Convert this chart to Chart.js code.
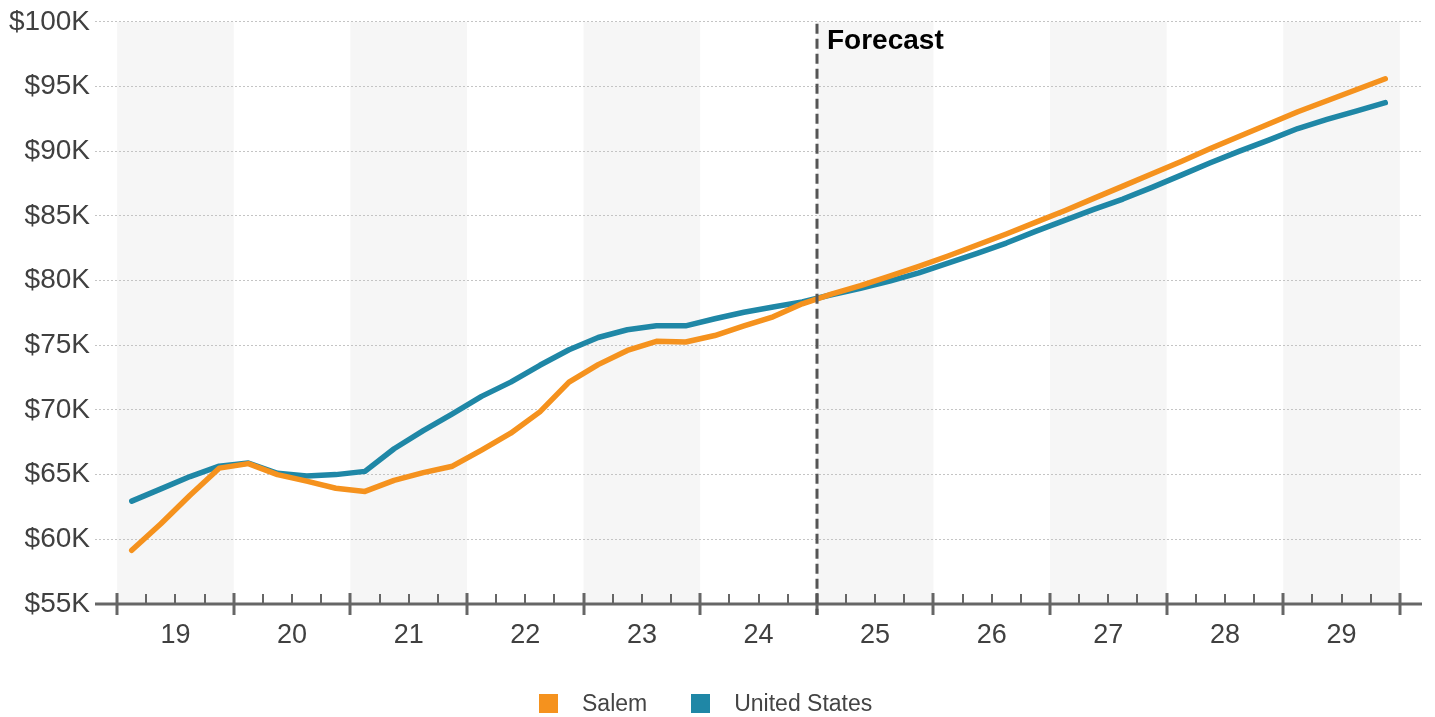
<!DOCTYPE html>
<html>
<head>
<meta charset="utf-8">
<script src="https://cdn.jsdelivr.net/npm/chart.js@4"></script>
<style>
  html, body { margin: 0; padding: 0; background: #fff; }
  #wrap { position: relative; width: 1435px; height: 717px; }
  #legend { position: absolute; left: 539px; top: 690px; display: flex; align-items: center;
            font-family: "Liberation Sans", Arial, sans-serif; font-size: 23px; color: #444; }
  .item { display: flex; align-items: center; margin-right: 44px; }
  .box { width: 19px; height: 19px; margin-right: 24px; }
</style>
</head>
<body>
<div id="wrap">
  <canvas id="c" width="1435" height="717"></canvas>
  <div id="legend"></div>
</div>
<script>
// Year labels (two-digit) and quarterly values, Q1 2019 through Q4 2029
const years = ['19', '20', '21', '22', '23', '24', '25', '26', '27', '28', '29'];
const forecastYear = '25';

const salem = [
  59.15, 61.2, 63.4, 65.5,
  65.85, 65.0, 64.5, 63.95,
  63.7, 64.55, 65.15, 65.65,
  66.9, 68.2, 69.85, 72.15,
  73.5, 74.6, 75.3, 75.25,
  75.75, 76.5, 77.2, 78.2,
  78.95, 79.6, 80.35, 81.1,
  81.9, 82.75, 83.6, 84.5,
  85.4, 86.35, 87.3, 88.25,
  89.2, 90.2, 91.15, 92.1,
  93.05, 93.9, 94.75, 95.6
];

const unitedStates = [
  62.95, 63.9, 64.85, 65.65,
  65.9, 65.1, 64.9, 65.0,
  65.25, 67.0, 68.4, 69.7,
  71.05, 72.15, 73.45, 74.65,
  75.6, 76.2, 76.5, 76.5,
  77.05, 77.55, 77.95, 78.35,
  78.9, 79.4, 79.95, 80.6,
  81.35, 82.1, 82.9, 83.8,
  84.65, 85.5, 86.3, 87.2,
  88.15, 89.1, 90.0, 90.85,
  91.75, 92.45, 93.1, 93.75
];

const yTicks = [55, 60, 65, 70, 75, 80, 85, 90, 95, 100];

const FONT = '"Liberation Sans", Arial, sans-serif';

// x is measured in years from the start of '19; each quarter sits at its centre
const toPoints = vals => vals.map((v, i) => ({ x: Math.floor(i / 4) + ((i % 4) + 0.5) / 4, y: v * 1000 }));

// Alternating year bands behind the lines
const bandsPlugin = {
  id: 'bands',
  beforeDraw(chart) {
    const { ctx, chartArea, scales: { x } } = chart;
    ctx.save();
    ctx.fillStyle = '#f6f6f6';
    years.forEach((y, i) => {
      if (i % 2 !== 0) return;
      const x0 = x.getPixelForValue(i), x1 = x.getPixelForValue(i + 1);
      ctx.fillRect(x0, chartArea.top, x1 - x0, chartArea.bottom - chartArea.top);
    });
    ctx.restore();
  }
};

// Time axis: base line, year and quarter tick marks, forecast divider
const axisPlugin = {
  id: 'timeAxis',
  afterDatasetsDraw(chart) {
    const { ctx, chartArea, scales: { x } } = chart;
    const yb = chartArea.bottom;
    ctx.save();
    ctx.strokeStyle = '#666';
    ctx.lineCap = 'butt';
    ctx.lineWidth = 3;
    ctx.beginPath();
    ctx.moveTo(chartArea.left, yb);
    ctx.lineTo(chartArea.right, yb);
    ctx.stroke();
    for (let i = 0; i <= years.length; i++) {
      for (let q = 0; q < 4; q++) {
        if (i === years.length && q > 0) break;
        const px = Math.round(x.getPixelForValue(i + q / 4));
        ctx.beginPath();
        if (q === 0) {
          ctx.lineWidth = 3;
          ctx.moveTo(px, yb - 11);
          ctx.lineTo(px, yb + 11);
        } else {
          ctx.lineWidth = 2;
          ctx.moveTo(px, yb - 10);
          ctx.lineTo(px, yb);
        }
        ctx.stroke();
      }
    }
    // forecast divider
    const fx = Math.round(x.getPixelForValue(years.indexOf(forecastYear)));
    ctx.strokeStyle = '#555';
    ctx.lineWidth = 3;
    ctx.setLineDash([10, 5]);
    ctx.beginPath();
    ctx.moveTo(fx, chartArea.top + 2);
    ctx.lineTo(fx, yb + 11);
    ctx.stroke();
    ctx.setLineDash([]);
    ctx.fillStyle = '#000';
    ctx.font = 'bold 28px ' + FONT;
    ctx.textBaseline = 'alphabetic';
    ctx.textAlign = 'left';
    ctx.fillText('Forecast', fx + 10, chartArea.top + 27);
    ctx.restore();
  }
};

const chart = new Chart(document.getElementById('c'), {
  type: 'line',
  data: {
    datasets: [
      { label: 'Salem', data: toPoints(salem), borderColor: '#F5921E', backgroundColor: '#F5921E' },
      { label: 'United States', data: toPoints(unitedStates), borderColor: '#1F87A6', backgroundColor: '#1F87A6' }
    ]
  },
  options: {
    responsive: false,
    animation: false,
    layout: { padding: { top: 21, right: 13, left: 0, bottom: 0 } },
    elements: {
      line: { borderWidth: 5.5, tension: 0, borderCapStyle: 'round', borderJoinStyle: 'round' },
      point: { radius: 0, hoverRadius: 0 }
    },
    plugins: { legend: { display: false }, tooltip: { enabled: false } },
    scales: {
      x: {
        type: 'linear',
        min: -0.19,
        max: years.length + 0.19,
        afterBuildTicks(scale) {
          const t = [];
          for (let k = 0; k <= years.length * 4; k++) t.push({ value: k / 4 });
          scale.ticks = t;
        },
        afterFit(scale) { scale.height = 113; },
        grid: { display: false },
        border: { display: false },
        ticks: {
          autoSkip: false,
          maxRotation: 0,
          padding: 7,
          color: '#404040',
          font: { family: FONT, size: 27 },
          callback(v) {
            const i = v - 0.5;
            return Number.isInteger(i) && i >= 0 && i < years.length ? years[i] : '';
          }
        }
      },
      y: {
        min: 55000,
        max: 100000,
        afterBuildTicks(scale) { scale.ticks = yTicks.map(v => ({ value: v * 1000 })); },
        afterFit(scale) { scale.width = 95; },
        border: { display: false, dash: [2, 2] },
        grid: { color: '#c4c4c4', lineWidth: 1, drawTicks: false },
        ticks: {
          padding: 5,
          color: '#404040',
          font: { family: FONT, size: 28 },
          callback: v => '$' + (v / 1000) + 'K'
        }
      }
    }
  },
  plugins: [bandsPlugin, axisPlugin]
});

// Legend built from the datasets
const legend = document.getElementById('legend');
chart.data.datasets.forEach(ds => {
  const item = document.createElement('div');
  item.className = 'item';
  const box = document.createElement('div');
  box.className = 'box';
  box.style.background = ds.borderColor;
  const txt = document.createElement('span');
  txt.textContent = ds.label;
  item.appendChild(box);
  item.appendChild(txt);
  legend.appendChild(item);
});
</script>
</body>
</html>
